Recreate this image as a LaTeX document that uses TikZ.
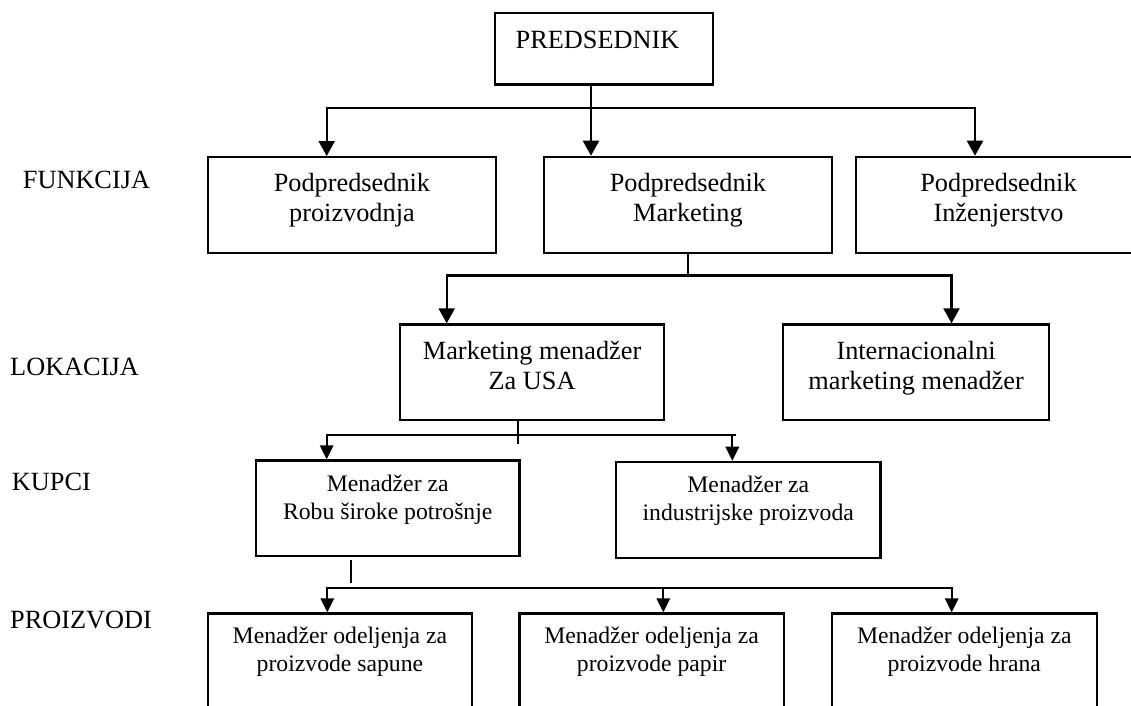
\documentclass[tikz,border=0pt]{standalone}
\usepackage{fontspec}
\setmainfont{Liberation Serif}
\usetikzlibrary{arrows.meta,calc}
\begin{document}
\begin{tikzpicture}[x=1pt,y=-1pt,
  box/.style={draw, line width=2.2pt, inner sep=0pt, anchor=north west},
  big/.style={font=\fontsize{26.3}{30}\selectfont, align=center, inner sep=0pt, anchor=base},
  small/.style={font=\fontsize{23.7}{28}\selectfont, align=center, inner sep=0pt, anchor=base},
  level/.style={font=\fontsize{26.3}{30}\selectfont, inner sep=0pt, anchor=base west},
  conn/.style={line width=2.2pt},
  thinconn/.style={line width=1.7pt},
  arr/.style={conn, -{Triangle[length=15pt,width=16pt]}},
  arrs/.style={thinconn, -{Triangle[length=14pt,width=13.5pt]}},
]
\path[use as bounding box] (0,0) rectangle (1131,705);
\clip (0,0) rectangle (1131,705);

% boxes
\node[box, minimum width=217.7pt, minimum height=71.6pt] (pred) at (494,11.7) {};
\node[box, minimum width=288.3pt, minimum height=95.7pt] (vp1) at (206.7,156) {};
\node[box, minimum width=288.3pt, minimum height=96.3pt] (vp2) at (542.7,155.7) {};
\node[box, minimum width=290pt, minimum height=96.3pt] (vp3) at (855,155.7) {};
\node[box, minimum width=264pt, minimum height=95.7pt] (usa) at (399,323.3) {};
\node[box, minimum width=266pt, minimum height=95.7pt] (intl) at (782,323.3) {};
\node[box, minimum width=263.3pt, minimum height=95.7pt] (robu) at (255,459.3) {};
\node[box, minimum width=264.3pt, minimum height=96pt] (ind) at (615,460.7) {};
\node[box, minimum width=263.7pt, minimum height=130pt] (p1) at (207,612.3) {};
\node[box, minimum width=264.4pt, minimum height=130pt] (p2) at (518.3,612.3) {};
\node[box, minimum width=265pt, minimum height=130pt] (p3) at (830.7,612.3) {};

% box texts (anchored on the baseline of the last line)
\node[big] (predt) at (597.5,48.3) {PREDSEDNIK};
\node[big] (vp1t) at ($(vp1.north)+(0,65.7)$) {Podpredsednik\\proizvodnja};
\node[big] (vp2t) at ($(vp2.north)+(0,65.5)$) {Podpredsednik\\Marketing};
\node[big] (vp3t) at (998.5,221.2) {Podpredsednik\\Inženjerstvo};
\node[big] (usat) at ($(usa.north)+(0,66)$) {Marketing menadžer\\Za USA};
\node[big] (intlt) at ($(intl.north)+(0,66)$) {Internacionalni\\marketing menadžer};
\node[small] (robut) at ($(robu.north)+(0,60)$) {Menadžer za\\Robu široke potrošnje};
\node[small] (indt) at ($(ind.north)+(0,59.5)$) {Menadžer za\\industrijske proizvoda};
\node[small] (p1t) at ($(p1.north)+(0,59.4)$) {Menadžer odeljenja za\\proizvode sapune};
\node[small] (p2t) at ($(p2.north)+(0,59.4)$) {Menadžer odeljenja za\\proizvode papir};
\node[small] (p3t) at ($(p3.north)+(0,59.4)$) {Menadžer odeljenja za\\proizvode hrana};

% level names
\node[level] (lf) at (22.7,188.3) {FUNKCIJA};
\node[level] (ll) at (10,375) {LOKACIJA};
\node[level] (lk) at (11.7,490) {KUPCI};
\node[level] (lp) at (10,628.3) {PROIZVODI};

% president -> vice presidents
\coordinate (s1) at (591,108.3);
\coordinate (s1l) at (326.7,108.3);
\coordinate (s1r) at (975,108.3);
\draw[arr] (s1 |- pred.south) -- (s1 |- vp2.north);
\draw[arr] (s1) -- (s1l) -- (s1l |- vp1.north);
\draw[arr] (s1) -- (s1r) -- (s1r |- vp3.north);

% marketing -> location managers
\coordinate (s2l) at (446.7,275.5);
\coordinate (s2r) at (951.5,275.5);
\draw[conn] (vp2.south) -- (vp2.south |- s2l);
\draw[arr] (s2r) -- (s2l) -- (s2l |- usa.north);
\draw[arr] (s2l) -- (s2r) -- (s2r |- intl.north);

% USA -> customer managers
\coordinate (s3l) at (326.7,435.3);
\coordinate (s3r) at (736,435.3);
\coordinate (s3a) at (732.3,435.3);
\coordinate (s3e) at (518.3,444);
\draw[thinconn] (s3e |- usa.south) -- (s3e);
\draw[arrs] (s3r) -- (s3l) -- (s3l |- robu.north);
\draw[arrs] (s3a) -- (s3a |- ind.north);

% consumer goods -> product managers
\coordinate (s4t) at (351,560);
\coordinate (s4b) at (351,583.3);
\coordinate (s4l) at (327.3,587.7);
\coordinate (s4m) at (663.3,587.7);
\coordinate (s4r) at (951.7,587.7);
\draw[thinconn] (s4t) -- (s4b);
\draw[arrs] (s4r) -- (s4l) -- (s4l |- p1.north);
\draw[arrs] (s4m) -- (s4m |- p2.north);
\draw[arrs] (s4l) -- (s4r) -- (s4r |- p3.north);
\end{tikzpicture}
\end{document}
